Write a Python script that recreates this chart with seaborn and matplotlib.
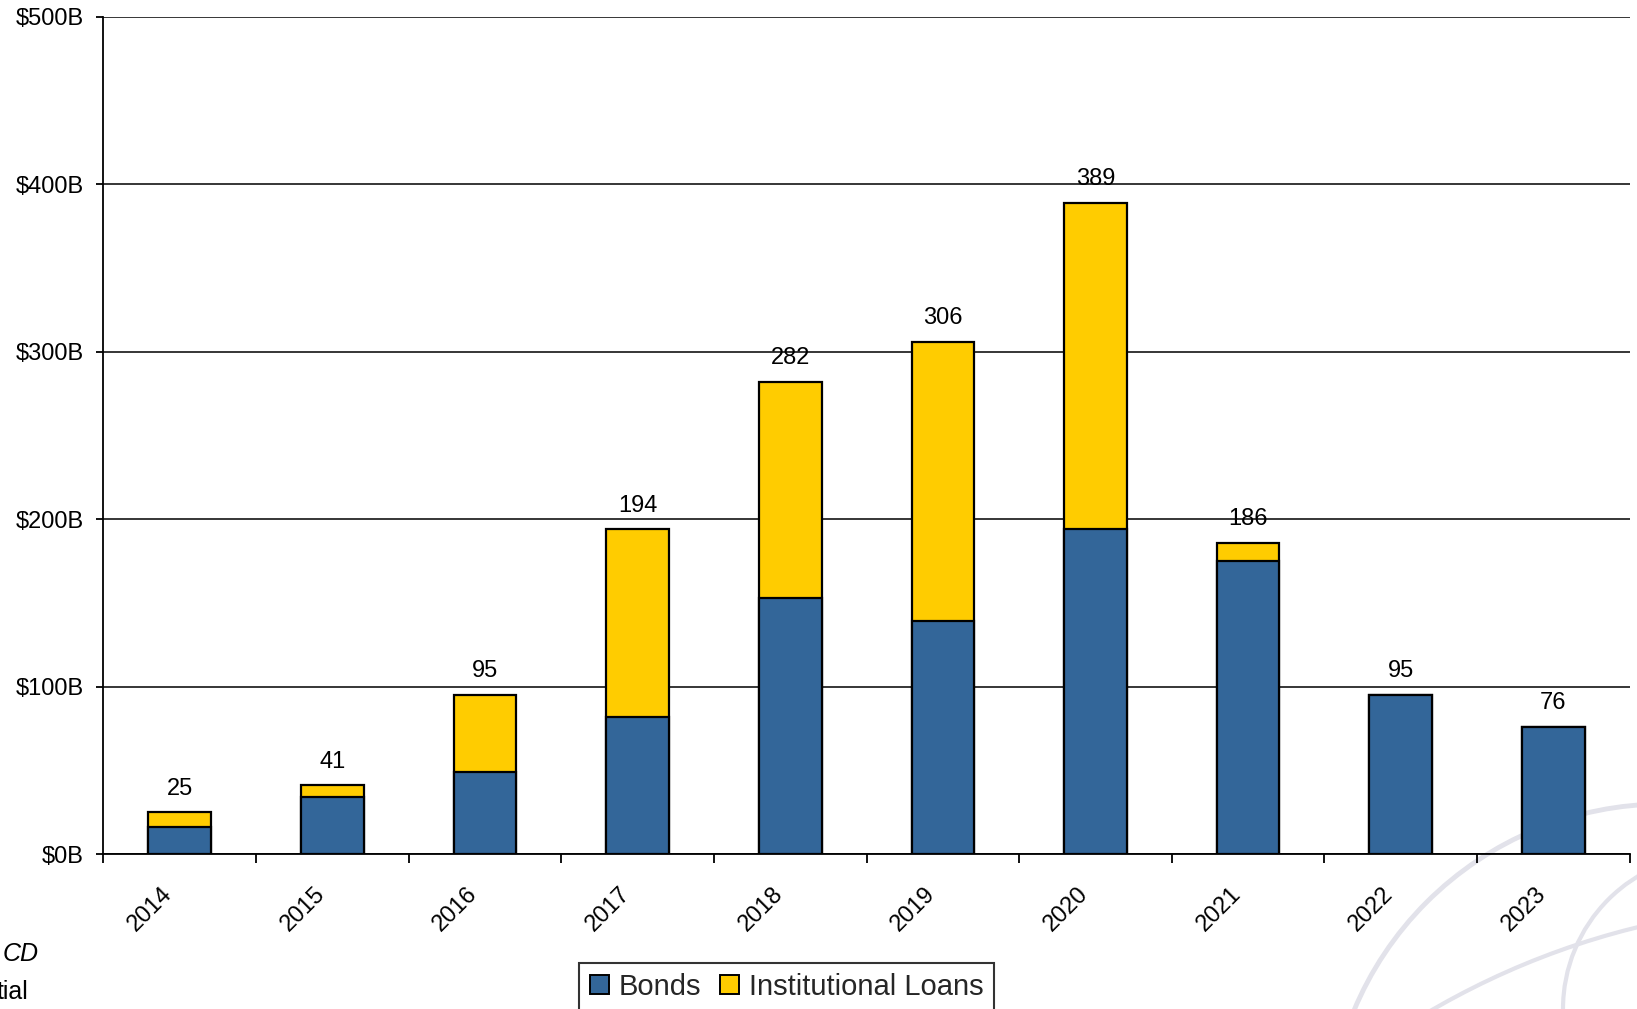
import numpy as np
import pandas as pd
import matplotlib
matplotlib.use("Agg")
import matplotlib.pyplot as plt
import matplotlib.patches as mpatches
from matplotlib.transforms import ScaledTranslation
import seaborn as sns

# ---- data ----
years = ["2014", "2015", "2016", "2017", "2018", "2019", "2020", "2021", "2022", "2023"]
bonds = [16, 34, 49, 82, 153, 139, 194, 175, 95, 76]
loans = [9, 7, 46, 112, 129, 167, 195, 11, 0, 0]
totals = [25, 41, 95, 194, 282, 306, 389, 186, 95, 76]
y_ticks = [0, 100, 200, 300, 400, 500]
y_tick_labels = ["$0B", "$100B", "$200B", "$300B", "$400B", "$500B"]
series_names = ["Bonds", "Institutional Loans"]

BLUE = "#336699"
YELLOW = "#FFCC00"

sns.set_theme(style="white")
plt.rcParams["font.family"] = ["Liberation Sans", "DejaVu Sans"]

df = pd.DataFrame({"year": years, "bonds": bonds, "loans": loans})
df["stack_top"] = df["bonds"] + df["loans"]

fig = plt.figure(figsize=(16.37, 10.09), dpi=100)
fig.patch.set_facecolor("white")

# faint decorative arcs (slide background)
for (cx, cy, r, lw) in [(1664, -131, 336, 3.5), (1718, 0, 155, 3.0), (1822, -673, 777, 3.0)]:
    fig.add_artist(mpatches.Circle((cx, cy), r, transform=None, fill=False,
                                   edgecolor="#e2e2ea", linewidth=lw, zorder=0))

ax = fig.add_axes([0.0632, 0.1536, 0.9323, 0.8298])
ax.set_facecolor("none")

sns.barplot(data=df, x="year", y="stack_top", color=YELLOW, saturation=1,
            edgecolor="black", linewidth=1.6, width=0.41, ax=ax, zorder=3)
sns.barplot(data=df, x="year", y="bonds", color=BLUE, saturation=1,
            edgecolor="black", linewidth=1.6, width=0.41, ax=ax, zorder=4)

for i, t in enumerate(totals):
    ax.annotate(str(t), (i, t), xytext=(0, 9), textcoords="offset points",
                ha="center", va="bottom", fontsize=17, color="black", zorder=5)

ax.set_ylim(0, 500)
ax.set_xlim(-0.5, len(years) - 0.5)
ax.set_yticks(y_ticks)
ax.set_yticklabels(y_tick_labels, fontsize=17, color="black")
ax.yaxis.grid(True, color="black", linewidth=1.1)
ax.xaxis.grid(False)
ax.set_axisbelow(True)

ax.set_xticks(range(len(years)))
ax.set_xticklabels(years, rotation=45, ha="right", va="top", fontsize=17, color="black")
ax.set_xticks(np.arange(-0.5, len(years), 1.0), minor=True)
ax.tick_params(axis="x", which="major", length=0, pad=21)
ax.tick_params(axis="x", which="minor", length=6.5, width=1.3, color="black", direction="out", bottom=True)
ax.tick_params(axis="y", which="major", length=5, width=1.3, color="black", direction="out", pad=9, left=True)
for lbl in ax.get_xticklabels():
    lbl.set_transform(lbl.get_transform() + ScaledTranslation(-3 / 100, 0, fig.dpi_scale_trans))

ax.set_xlabel("")
ax.set_ylabel("")
for s in ["top", "right"]:
    ax.spines[s].set_visible(False)
for s in ["left", "bottom"]:
    ax.spines[s].set_visible(True)
    ax.spines[s].set_color("black")
    ax.spines[s].set_linewidth(1.3)
    ax.spines[s].set_zorder(6)

handles = [mpatches.Patch(facecolor=BLUE, edgecolor="black", linewidth=1.4),
           mpatches.Patch(facecolor=YELLOW, edgecolor="black", linewidth=1.4)]
leg = fig.legend(handles, series_names, loc="upper left", bbox_to_anchor=(0.354, 0.046),
                 ncol=2, fontsize=21, frameon=True, fancybox=False, shadow=False,
                 handlelength=0.65, handleheight=0.65, handletextpad=0.35,
                 columnspacing=0.65, borderpad=0.35, borderaxespad=0)
leg.get_frame().set_edgecolor("black")
leg.get_frame().set_linewidth(1.5)
leg.get_frame().set_facecolor("white")

# cropped slide text at the left edge
fig.text(38.6 / 1637, 1 - 954 / 1009, "CD", ha="right", va="center", fontsize=18, style="italic", color="black")
fig.text(28 / 1637, 1 - 992 / 1009, "tial", ha="right", va="center", fontsize=18, color="black")

fig.savefig("out.png", dpi=100)
